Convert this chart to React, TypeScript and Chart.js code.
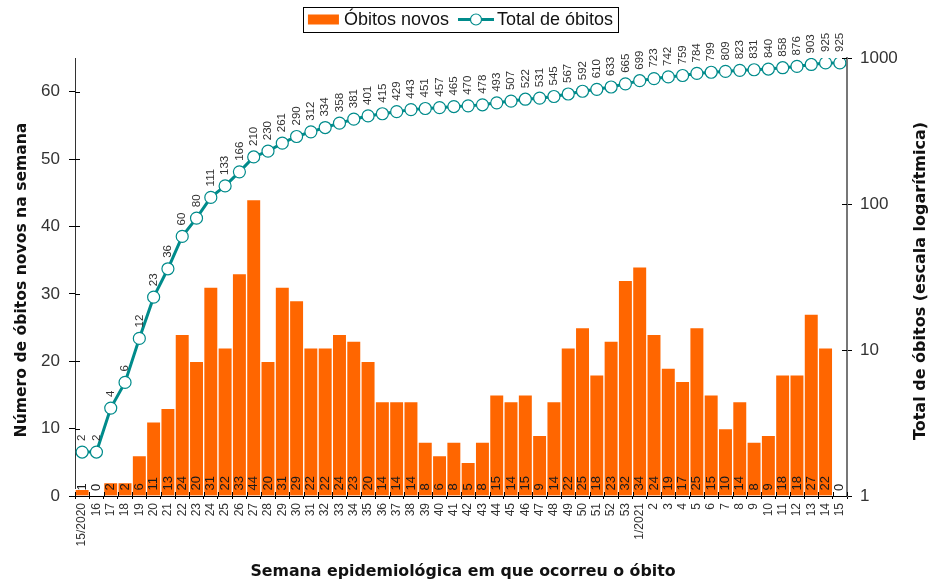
import { useEffect, useRef } from "react";
import { Chart, registerables } from "chart.js";

Chart.register(...registerables);

const weekLabels = [
  "15/2020", "16", "17", "18", "19", "20", "21", "22", "23", "24", "25", "26", "27", "28",
  "29", "30", "31", "32", "33", "34", "35", "36", "37", "38", "39", "40", "41", "42", "43",
  "44", "45", "46", "47", "48", "49", "50", "51", "52", "53",
  "1/2021", "2", "3", "4", "5", "6", "7", "8", "9", "10", "11", "12", "13", "14", "15",
];

const newDeaths = [
  1, 0, 2, 2, 6, 11, 13, 24, 20, 31, 22, 33, 44, 20,
  31, 29, 22, 22, 24, 23, 20, 14, 14, 14, 8, 6, 8, 5, 8,
  15, 14, 15, 9, 14, 22, 25, 18, 23, 32,
  34, 24, 19, 17, 25, 15, 10, 14, 8, 9, 18, 18, 27, 22, 0,
];

const totalDeaths = [
  2, 2, 4, 6, 12, 23, 36, 60, 80, 111, 133, 166, 210, 230,
  261, 290, 312, 334, 358, 381, 401, 415, 429, 443, 451, 457, 465, 470, 478,
  493, 507, 522, 531, 545, 567, 592, 610, 633, 665,
  699, 723, 742, 759, 784, 799, 809, 823, 831, 840, 858, 876, 903, 925, 925,
];

const leftTickValues = [0, 10, 20, 30, 40, 50, 60];
const rightTickValues = [1, 10, 100, 1000];

const seriesNames = ["Óbitos novos", "Total de óbitos"];
const xTitle = "Semana epidemiológica em que ocorreu o óbito";
const leftTitle = "Número de óbitos novos na semana";
const rightTitle = "Total de óbitos (escala logarítmica)";

const ORANGE = "#FF6600";
const TEAL = "#008B8B";
const SANS = '"Liberation Sans", Arial, sans-serif';
const TITLE_FAMILY = '"DejaVu Sans", Verdana, sans-serif';

const decorPlugin = {
  id: "decor",
  afterDatasetsDraw(chart: any) {
    const ctx = chart.ctx as CanvasRenderingContext2D;
    ctx.save();
    // bar value labels
    ctx.font = `13px ${SANS}`;
    ctx.fillStyle = "#1a1a1a";
    ctx.textAlign = "left";
    ctx.textBaseline = "middle";
    const barMeta = chart.getDatasetMeta(0);
    barMeta.data.forEach((el: any, i: number) => {
      const p = el.getProps(["x", "base"], true);
      ctx.save();
      ctx.translate(p.x, p.base - 5);
      ctx.rotate(-Math.PI / 2);
      ctx.fillText(String(newDeaths[i]), 0, 0);
      ctx.restore();
    });
    // line point labels
    ctx.font = `11.5px ${SANS}`;
    ctx.fillStyle = "#333";
    const lineMeta = chart.getDatasetMeta(1);
    lineMeta.data.forEach((el: any, i: number) => {
      const p = el.getProps(["x", "y"], true);
      ctx.save();
      ctx.translate(p.x, p.y - 11);
      ctx.rotate(-Math.PI / 2);
      ctx.fillText(String(totalDeaths[i]), 0, 0);
      ctx.restore();
    });
    ctx.restore();
  },
  afterDraw(chart: any) {
    const ctx = chart.ctx as CanvasRenderingContext2D;
    const area = chart.chartArea;
    const xs = chart.scales.x;
    const yl = chart.scales.y;
    const yr = chart.scales.y1;
    ctx.save();
    // inner tick marks
    ctx.strokeStyle = "#000";
    ctx.lineWidth = 1;
    ctx.beginPath();
    leftTickValues.forEach((v) => {
      const y = Math.round(yl.getPixelForValue(v)) + 0.5;
      ctx.moveTo(area.left, y);
      ctx.lineTo(area.left + 5, y);
    });
    rightTickValues.forEach((v) => {
      const y = Math.round(yr.getPixelForValue(v)) + 0.5;
      ctx.moveTo(area.right - 5, y);
      ctx.lineTo(area.right, y);
    });
    const n = weekLabels.length;
    for (let i = 0; i <= n; i++) {
      const x = Math.round(xs.left + (i * (xs.right - xs.left)) / n) + 0.5;
      ctx.moveTo(x, area.bottom);
      ctx.lineTo(x, area.bottom - 4);
    }
    ctx.stroke();

    // axis titles
    ctx.fillStyle = "#111";
    ctx.textAlign = "center";
    ctx.textBaseline = "middle";
    ctx.font = `bold 15.8px ${TITLE_FAMILY}`;
    ctx.fillText(xTitle, 463, 572);
    ctx.save();
    ctx.translate(22, 280);
    ctx.rotate(-Math.PI / 2);
    ctx.font = `bold 15.6px ${TITLE_FAMILY}`;
    ctx.fillText(leftTitle, 0, 0);
    ctx.restore();
    ctx.save();
    ctx.translate(921, 281);
    ctx.rotate(-Math.PI / 2);
    ctx.font = `bold 16px ${TITLE_FAMILY}`;
    ctx.fillText(rightTitle, 0, 0);
    ctx.restore();

    // legend
    ctx.font = `18px ${SANS}`;
    ctx.textAlign = "left";
    const w1 = ctx.measureText(seriesNames[0]).width;
    const w2 = ctx.measureText(seriesNames[1]).width;
    const swatch = 31;
    const gap = 5;
    const itemGap = 9;
    const pad = 5;
    const total = pad + swatch + gap + w1 + itemGap + 36 + gap - 2 + w2 + pad;
    const cx = 460.5;
    const left = cx - total / 2;
    const top = 7;
    const h = 25;
    const cy = top + h / 2;
    ctx.strokeStyle = "#000";
    ctx.lineWidth = 1;
    ctx.strokeRect(Math.round(left) + 0.5, top + 0.5, Math.round(total), h);
    let x = left + pad;
    ctx.fillStyle = ORANGE;
    ctx.fillRect(x, cy - 5, swatch, 10);
    x += swatch + gap;
    ctx.fillStyle = "#111";
    ctx.fillText(seriesNames[0], x, cy + 1);
    x += w1 + itemGap;
    ctx.strokeStyle = TEAL;
    ctx.lineWidth = 3;
    ctx.beginPath();
    ctx.moveTo(x, cy);
    ctx.lineTo(x + 36, cy);
    ctx.stroke();
    ctx.beginPath();
    ctx.arc(x + 18, cy, 5.5, 0, Math.PI * 2);
    ctx.fillStyle = "#fff";
    ctx.fill();
    ctx.lineWidth = 1.2;
    ctx.stroke();
    x += 36 + gap - 2;
    ctx.fillStyle = "#111";
    ctx.fillText(seriesNames[1], x, cy + 1);
    ctx.restore();
  },
};

export default function App() {
  const canvasRef = useRef<HTMLCanvasElement | null>(null);

  useEffect(() => {
    const canvas = canvasRef.current;
    if (!canvas) return;
    const chart = new Chart(canvas, {
      type: "bar",
      data: {
        labels: weekLabels,
        datasets: [
          {
            type: "bar",
            label: seriesNames[0],
            data: newDeaths,
            yAxisID: "y",
            backgroundColor: ORANGE,
            borderColor: "#ffffff",
            borderWidth: 1,
            barPercentage: 1,
            categoryPercentage: 1,
            order: 2,
          },
          {
            type: "line",
            label: seriesNames[1],
            data: totalDeaths,
            yAxisID: "y1",
            borderColor: TEAL,
            borderWidth: 3,
            pointRadius: 6,
            pointBorderWidth: 1.2,
            pointBackgroundColor: "#ffffff",
            pointBorderColor: TEAL,
            tension: 0,
            order: 1,
          } as any,
        ],
      },
      options: {
        responsive: false,
        animation: false,
        devicePixelRatio: 1,
        layout: { padding: { top: 58, left: 0, right: 0, bottom: 0 } },
        plugins: {
          legend: { display: false },
          tooltip: { enabled: false },
        },
        scales: {
          x: {
            type: "category",
            offset: true,
            grid: {
              display: true,
              drawOnChartArea: false,
              offset: true,
              tickLength: 3,
              color: "#000",
            },
            border: { color: "#000", width: 1 },
            ticks: {
              autoSkip: false,
              maxRotation: 90,
              minRotation: 90,
              padding: 4,
              color: "#333",
              font: { family: SANS, size: 12 },
            },
            afterFit: (scale: any) => {
              scale.height = 88;
            },
          },
          y: {
            type: "linear",
            position: "left",
            min: 0,
            max: 65,
            afterBuildTicks: (scale: any) => {
              scale.ticks = leftTickValues.map((v) => ({ value: v }));
            },
            grid: {
              display: true,
              drawOnChartArea: false,
              tickLength: 6,
              color: "#000",
            },
            border: { color: "#333", width: 1 },
            ticks: {
              padding: 9,
              color: "#333",
              font: { family: SANS, size: 17 },
            },
            afterFit: (scale: any) => {
              scale.width = 75;
            },
          },
          y1: {
            type: "logarithmic",
            position: "right",
            min: 1,
            max: 1000,
            afterBuildTicks: (scale: any) => {
              scale.ticks = rightTickValues.map((v) => ({ value: v }));
            },
            grid: {
              display: true,
              drawOnChartArea: false,
              tickLength: 5,
              color: "#000",
            },
            border: { color: "#777", width: 2 },
            ticks: {
              padding: 8,
              color: "#333",
              font: { family: SANS, size: 17 },
              callback: (v: any) => String(v),
            },
            afterFit: (scale: any) => {
              scale.width = 94;
            },
          },
        },
      },
      plugins: [decorPlugin],
    });
    return () => chart.destroy();
  }, []);

  return (
    <div style={{ position: "absolute", left: 0, top: 0, width: 941, height: 584, background: "#fff" }}>
      <canvas ref={canvasRef} width={941} height={584} style={{ display: "block" }} />
    </div>
  );
}
